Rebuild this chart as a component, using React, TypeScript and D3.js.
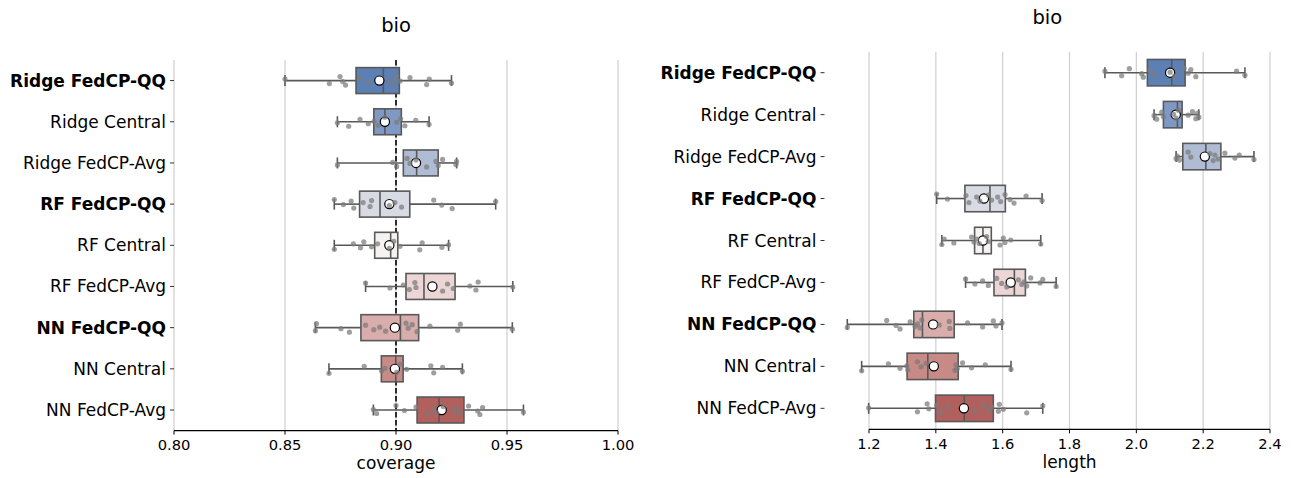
import React from 'react';
import { scaleLinear, scaleBand, format } from 'd3';

const methods = [
  'Ridge FedCP-QQ', 'Ridge Central', 'Ridge FedCP-Avg',
  'RF FedCP-QQ', 'RF Central', 'RF FedCP-Avg',
  'NN FedCP-QQ', 'NN Central', 'NN FedCP-Avg',
];
const boldMethods = ['Ridge FedCP-QQ', 'RF FedCP-QQ', 'NN FedCP-QQ'];
const boxColors = ['#5d80b4', '#7f99c4', '#b0bcd3', '#d8dbe4', '#f6f2f2', '#ebd5d5', '#d8adab', '#c78a86', '#b1605e'];

// coverage panel: [whisker low, q1, median, q3, whisker high]
const coverageBoxes = [
  [0.850, 0.882, 0.8943, 0.9015, 0.925],
  [0.8736, 0.890, 0.895, 0.9024, 0.9149],
  [0.8736, 0.9033, 0.9093, 0.919, 0.9273],
  [0.8722, 0.8836, 0.8928, 0.9062, 0.9449],
  [0.8722, 0.8904, 0.8976, 0.9008, 0.9237],
  [0.8863, 0.9045, 0.9126, 0.9266, 0.9526],
  [0.8637, 0.8842, 0.902, 0.9102, 0.9524],
  [0.8698, 0.8934, 0.8999, 0.9032, 0.9299],
  [0.8898, 0.9095, 0.9194, 0.9306, 0.9574],
];
const coverageMeans = [0.8925, 0.895, 0.909, 0.897, 0.897, 0.9164, 0.8995, 0.8995, 0.9206];
const coveragePoints = [
  [0.850, 0.870, 0.8748, 0.876, 0.8773, 0.8838, 0.8875, 0.8973, 0.8988, 0.9003, 0.9018, 0.9063, 0.9138, 0.915, 0.925],
  [0.8736, 0.8787, 0.8838, 0.8875, 0.8901, 0.892, 0.895, 0.9003, 0.9021, 0.904, 0.9089, 0.9149],
  [0.8736, 0.8985, 0.9003, 0.905, 0.9063, 0.909, 0.9138, 0.918, 0.919, 0.921, 0.927, 0.9273],
  [0.8722, 0.8763, 0.8798, 0.881, 0.8852, 0.8883, 0.889, 0.897, 0.8995, 0.9025, 0.917, 0.9206, 0.9253, 0.9449],
  [0.8722, 0.8808, 0.884, 0.8855, 0.889, 0.8917, 0.897, 0.899, 0.9018, 0.9107, 0.9118, 0.9207, 0.9237],
  [0.8863, 0.8973, 0.9033, 0.906, 0.9085, 0.909, 0.921, 0.9232, 0.9258, 0.9333, 0.936, 0.937, 0.9526],
  [0.8637, 0.8642, 0.8752, 0.879, 0.8863, 0.89, 0.8927, 0.8953, 0.9045, 0.9055, 0.9073, 0.9095, 0.9153, 0.9278, 0.929, 0.9524],
  [0.8698, 0.8857, 0.8935, 0.895, 0.9003, 0.9018, 0.9048, 0.9157, 0.917, 0.921, 0.9299],
  [0.8898, 0.8913, 0.900, 0.9038, 0.909, 0.914, 0.917, 0.9183, 0.9213, 0.926, 0.9272, 0.9288, 0.9327, 0.9368, 0.9378, 0.939, 0.9574],
];
const coverageTicks = [0.80, 0.85, 0.90, 0.95, 1.00];
const coverageTarget = 0.9;

// length panel
const lengthBoxes = [
  [1.906, 2.033, 2.106, 2.146, 2.325],
  [2.053, 2.081, 2.123, 2.137, 2.187],
  [2.119, 2.139, 2.208, 2.253, 2.352],
  [1.4025, 1.487, 1.562, 1.608, 1.718],
  [1.418, 1.516, 1.541, 1.566, 1.714],
  [1.489, 1.574, 1.635, 1.668, 1.760],
  [1.135, 1.334, 1.360, 1.455, 1.598],
  [1.178, 1.314, 1.376, 1.467, 1.625],
  [1.199, 1.399, 1.485, 1.572, 1.720],
];
const lengthMeans = [2.101, 2.118, 2.205, 1.544, 1.541, 1.624, 1.392, 1.394, 1.484];
const lengthPoints = [
  [1.906, 1.956, 1.979, 2.016, 2.021, 2.041, 2.054, 2.101, 2.114, 2.143, 2.155, 2.163, 2.178, 2.300, 2.325],
  [2.053, 2.061, 2.076, 2.081, 2.111, 2.119, 2.126, 2.155, 2.168, 2.178, 2.183, 2.187],
  [2.119, 2.123, 2.129, 2.155, 2.163, 2.220, 2.230, 2.235, 2.245, 2.265, 2.295, 2.308, 2.352],
  [1.4025, 1.435, 1.490, 1.499, 1.522, 1.532, 1.557, 1.567, 1.585, 1.594, 1.607, 1.622, 1.634, 1.670, 1.718],
  [1.418, 1.425, 1.454, 1.507, 1.514, 1.522, 1.530, 1.552, 1.557, 1.592, 1.602, 1.607, 1.624, 1.714],
  [1.489, 1.517, 1.540, 1.557, 1.582, 1.597, 1.612, 1.647, 1.657, 1.664, 1.672, 1.684, 1.712, 1.720, 1.760],
  [1.135, 1.253, 1.281, 1.293, 1.323, 1.338, 1.345, 1.353, 1.358, 1.410, 1.440, 1.442, 1.495, 1.540, 1.572, 1.580, 1.598],
  [1.178, 1.258, 1.293, 1.313, 1.316, 1.345, 1.356, 1.371, 1.457, 1.460, 1.464, 1.480, 1.507, 1.548, 1.625],
  [1.199, 1.345, 1.374, 1.379, 1.403, 1.415, 1.437, 1.517, 1.544, 1.557, 1.567, 1.587, 1.590, 1.602, 1.672, 1.720],
];
const lengthTicks = [1.2, 1.4, 1.6, 1.8, 2.0, 2.2, 2.4];

// fixed strip-plot jitter pattern (fraction of max offset)
const jitter = [-0.3, 0.6, -0.8, 0.2, 0.9, -0.5, 0.4, -0.1, 0.7, -0.9, 0.1, -0.6, 0.8, -0.3, 0.5, -0.7, 0.3];

const font = 'DejaVu Sans, sans-serif';
const edge = '#595959';

type PanelProps = {
  title: string,
  xLabel: string,
  boxes: number[][],
  means: number[],
  points: number[][],
  ticks: number[],
  tickFmt: string,
  xDomain: [number, number],
  xRange: [number, number],
  yRange: [number, number],
  axisLeft: number,
  titleY: number,
  target?: number,
}

function Panel(p: PanelProps) {
  const x = scaleLinear().domain(p.xDomain).range(p.xRange)
  const y = scaleBand().domain(methods).range(p.yRange)
  const bw = y.bandwidth()
  const boxH = bw * 0.63
  const capH = 11
  const axisY = p.yRange[1]
  const fmt = format(p.tickFmt)
  const midX = (p.axisLeft + p.xRange[1]) / 2

  return (
    <g fontFamily={font}>
      {p.ticks.map(t => (
        <line key={'g' + t} x1={x(t)} x2={x(t)} y1={p.yRange[0]} y2={axisY} stroke="#cfcfcf" strokeWidth={1.2} />
      ))}
      {p.target !== undefined && (
        <line x1={x(p.target)} x2={x(p.target)} y1={p.yRange[0]} y2={axisY} stroke="#000" strokeWidth={1.6} strokeDasharray="5.5,2.5" />
      )}
      {methods.map((m, i) => {
        const [lo, q1, med, q3, hi] = p.boxes[i]
        const cy = y(m)! + bw / 2
        return (
          <g key={m}>
            <line x1={x(lo)} x2={x(q1)} y1={cy} y2={cy} stroke={edge} strokeWidth={1.6} />
            <line x1={x(q3)} x2={x(hi)} y1={cy} y2={cy} stroke={edge} strokeWidth={1.6} />
            <line x1={x(lo)} x2={x(lo)} y1={cy - capH / 2} y2={cy + capH / 2} stroke={edge} strokeWidth={1.6} />
            <line x1={x(hi)} x2={x(hi)} y1={cy - capH / 2} y2={cy + capH / 2} stroke={edge} strokeWidth={1.6} />
            <rect x={x(q1)} y={cy - boxH / 2} width={x(q3) - x(q1)} height={boxH} fill={boxColors[i]} stroke={edge} strokeWidth={1.6} />
            <line x1={x(med)} x2={x(med)} y1={cy - boxH / 2} y2={cy + boxH / 2} stroke={edge} strokeWidth={1.6} />
            <circle cx={x(p.means[i])} cy={cy} r={4.6} fill="#fff" stroke="#000" strokeWidth={1.2} />
            {p.points[i].map((v, j) => (
              <circle key={j} cx={x(v)} cy={cy + jitter[(j + i * 3) % jitter.length] * 5} r={2.6} fill="#7a7a7a" fillOpacity={0.72} />
            ))}
          </g>
        )
      })}
      {methods.map(m => {
        const cy = y(m)! + bw / 2
        return (
          <g key={'t' + m}>
            <line x1={p.axisLeft - 4} x2={p.axisLeft} y1={cy} y2={cy} stroke="#333" strokeWidth={1} />
            <text x={p.axisLeft - 8} y={cy} textAnchor="end" dominantBaseline="central" fontSize={17}
              fontWeight={boldMethods.includes(m) ? 'bold' : 'normal'} fill="#000">{m}</text>
          </g>
        )
      })}
      <line x1={x(p.ticks[0])} x2={x(p.ticks[p.ticks.length - 1])} y1={axisY} y2={axisY} stroke="#000" strokeWidth={1.3} />
      {p.ticks.map(t => (
        <g key={'x' + t}>
          <line x1={x(t)} x2={x(t)} y1={axisY} y2={axisY + 4} stroke="#000" strokeWidth={1} />
          <text x={x(t)} y={axisY + 19.8} textAnchor="middle" fontSize={14.7} fill="#000">{fmt(t)}</text>
        </g>
      ))}
      <text x={x((p.ticks[0] + p.ticks[p.ticks.length - 1]) / 2)} y={axisY + 38.5} textAnchor="middle" fontSize={17} fill="#000">{p.xLabel}</text>
      <text x={midX} y={p.titleY} textAnchor="middle" fontSize={19.5} fill="#000">{p.title}</text>
    </g>
  )
}

export default function App() {
  return (
    <svg width={1291} height={478} style={{ position: 'absolute', left: 0, top: 0, background: '#fff' }}>
      <Panel title="bio" xLabel="coverage" boxes={coverageBoxes} means={coverageMeans} points={coveragePoints}
        ticks={coverageTicks} tickFmt=".2f" xDomain={[0.8, 1.0]} xRange={[174, 618]} yRange={[60, 430.6]}
        axisLeft={174} titleY={32} target={coverageTarget} />
      <Panel title="bio" xLabel="length" boxes={lengthBoxes} means={lengthMeans} points={lengthPoints}
        ticks={lengthTicks} tickFmt=".1f" xDomain={[1.2, 2.4]} xRange={[869, 1270]} yRange={[51.7, 429.3]}
        axisLeft={824.5} titleY={24} />
    </svg>
  )
}
